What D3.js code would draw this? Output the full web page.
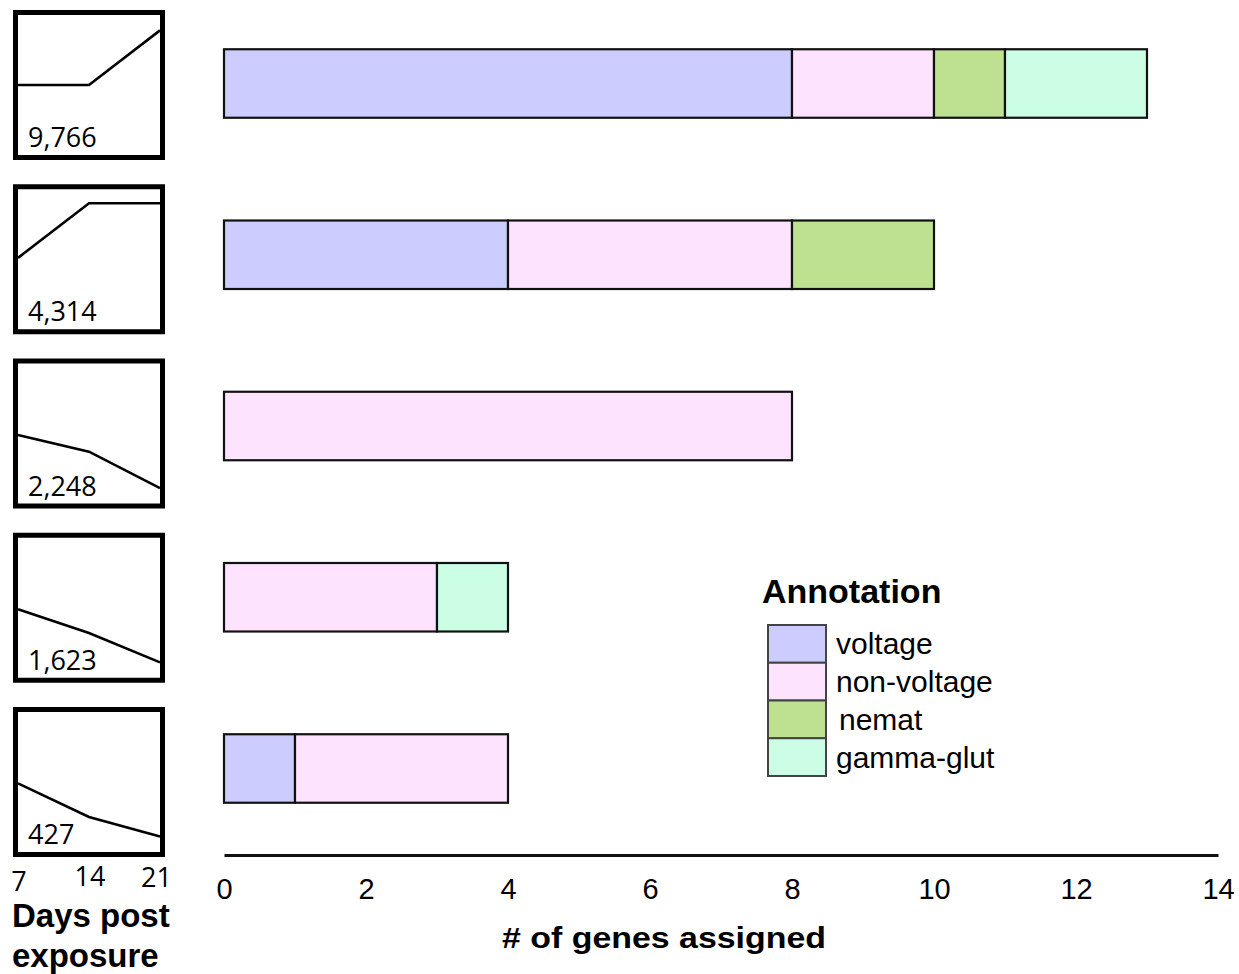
<!DOCTYPE html>
<html>
<head>
<meta charset="utf-8">
<script src="https://cdn.jsdelivr.net/npm/d3@7"></script>
<style>
  body { margin: 0; background: #fff; }
  text { fill: #000; }
</style>
</head>
<body>
<script>
// cluster sizes (labels in the small boxes), top to bottom
const clusters = ["9,766", "4,314", "2,248", "1,623", "427"];

// stacked counts per annotation, one value per cluster
const categories = ["voltage", "non-voltage", "nemat", "gamma-glut"];
const voltage    = [8, 4, 0, 0, 1];
const nonVoltage = [2, 4, 8, 3, 3];
const nemat      = [1, 2, 0, 0, 0];
const gammaGlut  = [2, 0, 0, 1, 0];

// expression profile at 7, 14, 21 days (relative level in the box)
const days = [7, 14, 21];
const profiles = [
  [0.50, 0.50, 0.89],
  [0.51, 0.90, 0.90],
  [0.49, 0.37, 0.11],
  [0.49, 0.32, 0.11],
  [0.49, 0.25, 0.11],
];

const xTicks = [0, 2, 4, 6, 8, 10, 12, 14];
const colors = ["#ccccff", "#fee3fe", "#bde190", "#ccfee5"];

const W = 1239, H = 974;
const svg = d3.select("body").append("svg")
  .attr("width", W)
  .attr("height", H);

// table for the stack
const table = clusters.map((c, i) => ({
  cluster: c,
  "voltage": voltage[i],
  "non-voltage": nonVoltage[i],
  "nemat": nemat[i],
  "gamma-glut": gammaGlut[i],
}));
const series = d3.stack().keys(categories)(table);

// scales
const x = d3.scaleLinear().domain([0, 14]).range([224, 1218]);
const y = d3.scaleBand().domain(clusters).range([15, 837])
  .paddingInner(0.6).paddingOuter(0.2);
const color = d3.scaleOrdinal().domain(categories).range(colors);

// bars
svg.append("g")
  .selectAll("g")
  .data(series)
  .join("g")
  .attr("fill", d => color(d.key))
  .selectAll("rect")
  .data(d => d.filter(p => p[1] - p[0] > 0))
  .join("rect")
  .attr("x", d => x(d[0]))
  .attr("y", d => y(d.data.cluster))
  .attr("width", d => x(d[1]) - x(d[0]))
  .attr("height", y.bandwidth())
  .attr("stroke", "#111")
  .attr("stroke-width", 2.2);

// x axis
const xaxis = d3.axisBottom(x).tickValues(xTicks).tickSize(0).tickPadding(23);
const g_xaxis = svg.append("g").attr("transform", "translate(0,855)").call(xaxis);
g_xaxis.select(".domain").attr("stroke", "#111").attr("stroke-width", 3);
g_xaxis.selectAll(".tick text")
  .attr("font-family", "Liberation Sans, Arial, sans-serif")
  .attr("font-size", 29)
  .attr("fill", "#111");

svg.append("text")
  .attr("x", 664).attr("y", 948)
  .attr("text-anchor", "middle")
  .attr("font-family", "Liberation Sans, Arial, sans-serif")
  .attr("font-weight", "bold")
  .attr("font-size", 30)
  .attr("textLength", 324)
  .attr("lengthAdjust", "spacingAndGlyphs")
  .text("# of genes assigned");

// small profile boxes on the left
const boxTop = d3.scalePoint().domain(clusters).range([10, 707]);
const dayX = d3.scaleLinear().domain([7, 21]).range([18, 160]);

clusters.forEach((c, i) => {
  const top = boxTop(c);
  const g = svg.append("g");
  const level = d3.scaleLinear().domain([0, 1]).range([top + 145, top + 5]);

  g.append("rect")
    .attr("x", 15.5).attr("y", top + 2.5)
    .attr("width", 147).attr("height", 145)
    .attr("fill", "#fff")
    .attr("stroke", "#000")
    .attr("stroke-width", 5);

  const line = d3.line()
    .x((d, j) => dayX(days[j]))
    .y(d => level(d));

  g.append("path")
    .attr("d", line(profiles[i]))
    .attr("fill", "none")
    .attr("stroke", "#000")
    .attr("stroke-width", 2.6);

  g.append("text")
    .attr("x", 28).attr("y", top + 137)
    .attr("font-family", "Open Sans, Noto Sans, sans-serif")
    .attr("font-size", 27)
    .attr("fill", "#222")
    .text(c);
});

// day ticks under the boxes
const dayBase = [891, 886, 887];
svg.append("g")
  .selectAll("text")
  .data(days)
  .join("text")
  .attr("x", (d, i) => i === 2 ? 172 : dayX(d) + 1)
  .attr("y", (d, i) => dayBase[i])
  .attr("text-anchor", (d, i) => i === 2 ? "end" : "middle")
  .attr("font-family", "Open Sans, Noto Sans, sans-serif")
  .attr("font-size", 27)
  .attr("fill", "#222")
  .text(d => d);

const daysLabel = svg.append("text")
  .attr("font-family", "Liberation Sans, Arial, sans-serif")
  .attr("font-weight", "bold")
  .attr("font-size", 33);
daysLabel.append("tspan").attr("x", 12).attr("y", 927).text("Days post");
daysLabel.append("tspan").attr("x", 12).attr("y", 967).text("exposure");

// legend
const legend = svg.append("g");
legend.append("text")
  .attr("x", 762).attr("y", 603)
  .attr("font-family", "Liberation Sans, Arial, sans-serif")
  .attr("font-weight", "bold")
  .attr("font-size", 34)
  .text("Annotation");

const ly = d3.scaleBand().domain(categories).range([625, 776]);
legend.selectAll("rect")
  .data(categories)
  .join("rect")
  .attr("x", 768).attr("y", d => ly(d))
  .attr("width", 58).attr("height", ly.bandwidth())
  .attr("fill", d => color(d))
  .attr("stroke", "#444")
  .attr("stroke-width", 2);

legend.selectAll("text.lab")
  .data(categories)
  .join("text")
  .attr("class", "lab")
  .attr("x", d => d === "nemat" ? 839 : 836)
  .attr("y", d => ly(d) + ly.bandwidth() / 2)
  .attr("dy", "0.35em")
  .attr("font-family", "Liberation Sans, Arial, sans-serif")
  .attr("font-size", 30)
  .attr("fill", "#111")
  .text(d => d);
</script>
</body>
</html>
